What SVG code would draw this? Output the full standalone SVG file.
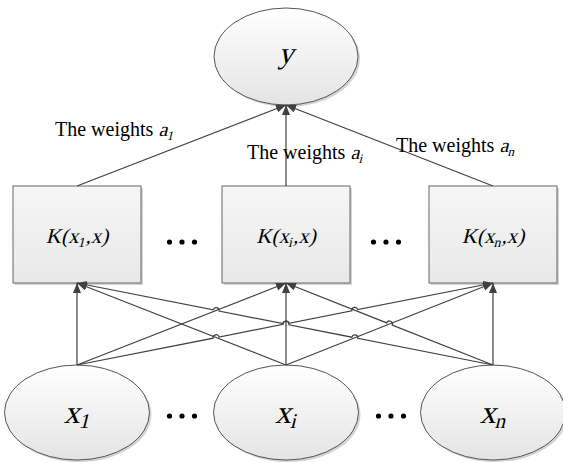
<svg xmlns="http://www.w3.org/2000/svg" width="563" height="462" viewBox="0 0 563 462">
<defs>
<linearGradient id="gE" x1="0" y1="0" x2="0" y2="1"><stop offset="0" stop-color="#ffffff"/><stop offset="1" stop-color="#e4e4e4"/></linearGradient>
<linearGradient id="gB" x1="0" y1="0" x2="0" y2="1"><stop offset="0" stop-color="#f6f6f6"/><stop offset="1" stop-color="#e8e8e8"/></linearGradient>
<marker id="arr" markerUnits="userSpaceOnUse" markerWidth="12" markerHeight="10" refX="10" refY="4" orient="auto"><path d="M0,0 L10,4 L0,8 Z" fill="#404040"/></marker>
</defs>
<style>
.el{fill:url(#gE);stroke:#555;stroke-width:1}
.bx{fill:url(#gB);stroke:#666;stroke-width:1}
.sh{fill:#a0a0a0;opacity:0.45}
.ln{fill:none;stroke:#404040;stroke-width:1.2;marker-end:url(#arr)}
.lbl{font-family:"Liberation Serif","Times New Roman",serif;font-size:20px;fill:#000}
.m{font-family:"Liberation Serif","Times New Roman",serif;font-style:normal;fill:#000}
.dot{fill:#000}
</style>

<g id="node-y">
<ellipse class="sh" cx="288" cy="58.5" rx="72" ry="48.5"/>
<ellipse class="el" cx="286" cy="56.5" rx="72" ry="48.5"/>
<text class="m" transform="translate(286,63) skewX(-14)" font-size="30" text-anchor="middle">y</text>
</g>

<g id="node-k1">
<rect class="sh" x="15" y="188" width="128" height="97"/>
<rect class="bx" x="13" y="186" width="128" height="97"/>
<text class="m" transform="translate(77,243) skewX(-14)" font-size="21" text-anchor="middle">K(x<tspan font-size="14" dy="4">1</tspan><tspan dy="-4">,x)</tspan></text>
</g>
<g id="node-ki">
<rect class="sh" x="224" y="188" width="128" height="97"/>
<rect class="bx" x="222" y="186" width="128" height="97"/>
<text class="m" transform="translate(286,243) skewX(-14)" font-size="21" text-anchor="middle">K(x<tspan font-size="14" dy="4">i</tspan><tspan dy="-4">,x)</tspan></text>
</g>
<g id="node-kn">
<rect class="sh" x="431" y="188" width="128" height="97"/>
<rect class="bx" x="429" y="186" width="128" height="97"/>
<text class="m" transform="translate(493,243) skewX(-14)" font-size="21" text-anchor="middle">K(x<tspan font-size="14" dy="4">n</tspan><tspan dy="-4">,x)</tspan></text>
</g>

<g id="node-x1">
<ellipse class="sh" cx="79" cy="414.5" rx="72.5" ry="47.5"/>
<ellipse class="el" cx="77" cy="412.5" rx="72.5" ry="47.5"/>
<text class="m" transform="translate(77,423) skewX(-14)" font-size="32" text-anchor="middle">x<tspan font-size="21" dy="5">1</tspan></text>
</g>
<g id="node-xi">
<ellipse class="sh" cx="288" cy="414.5" rx="72.5" ry="47.5"/>
<ellipse class="el" cx="286" cy="412.5" rx="72.5" ry="47.5"/>
<text class="m" transform="translate(286,423) skewX(-14)" font-size="32" text-anchor="middle">x<tspan font-size="21" dy="5">i</tspan></text>
</g>
<g id="node-xn">
<ellipse class="sh" cx="495" cy="414.5" rx="72.5" ry="47.5"/>
<ellipse class="el" cx="493" cy="412.5" rx="72.5" ry="47.5"/>
<text class="m" transform="translate(493,423) skewX(-14)" font-size="32" text-anchor="middle">x<tspan font-size="21" dy="5">n</tspan></text>
</g>

<g id="ellipsis">
<circle class="dot" cx="169.5" cy="242" r="2.6"/><circle class="dot" cx="182" cy="242" r="2.6"/><circle class="dot" cx="194.5" cy="242" r="2.6"/>
<circle class="dot" cx="373.5" cy="242" r="2.6"/><circle class="dot" cx="386" cy="242" r="2.6"/><circle class="dot" cx="398.5" cy="242" r="2.6"/>
<circle class="dot" cx="169.5" cy="416" r="2.6"/><circle class="dot" cx="182" cy="416" r="2.6"/><circle class="dot" cx="194.5" cy="416" r="2.6"/>
<circle class="dot" cx="378.5" cy="416" r="2.6"/><circle class="dot" cx="391" cy="416" r="2.6"/><circle class="dot" cx="403.5" cy="416" r="2.6"/>
</g>

<g id="connectors">
<path class="ln" d="M77,186 L286,105"/>
<path class="ln" d="M286,186 L286,105"/>
<path class="ln" d="M493,186 L286,105"/>

<path class="ln" d="M77,365 L77,283"/>
<path class="ln" d="M77,365 L286,283"/>
<path class="ln" d="M77,365 L213.16,338.18 A3,3 0 0 1 219.04,337.02 L283.06,324.38 A3,3 0 0 1 288.94,323.22 L351.86,310.78 A3,3 0 0 1 357.74,309.62 L493,283"/>
<path class="ln" d="M286,365 L77,283"/>
<path class="ln" d="M286,365 L286,283"/>
<path class="ln" d="M286,365 L493,283"/>
<path class="ln" d="M493,365 L357.74,338.34 A3,3 0 0 0 351.86,337.18 L288.94,324.78 A3,3 0 0 0 283.06,323.62 L219.04,311.0 A3,3 0 0 0 213.16,309.84 L77,283"/>
<path class="ln" d="M493,365 L392.29,325.1 A3,3 0 0 0 386.71,322.9 L286,283"/>
<path class="ln" d="M493,365 L493,283"/>
</g>

<g id="labels">
<text class="lbl" x="55" y="136">The weights </text>
<text class="m" transform="translate(158.5,136) skewX(-14)" font-size="20">a<tspan font-size="13" dy="4">1</tspan></text>
<text class="lbl" x="247" y="159">The weights </text>
<text class="m" transform="translate(350.5,159) skewX(-14)" font-size="20">a<tspan font-size="13" dy="4">i</tspan></text>
<text class="lbl" x="396" y="152">The weights </text>
<text class="m" transform="translate(499.5,152) skewX(-14)" font-size="20">a<tspan font-size="13" dy="4">n</tspan></text>
</g>
</svg>
